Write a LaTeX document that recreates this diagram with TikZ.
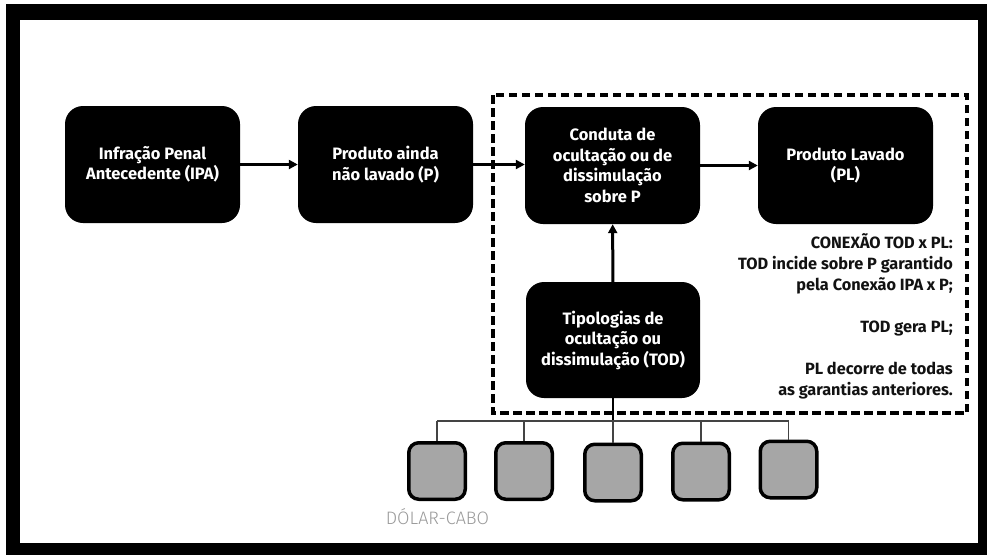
\documentclass[tikz,border=0pt]{standalone}
\usepackage{fontspec}
\setmainfont{Fira Sans}
\usetikzlibrary{arrows.meta}
\definecolor{smallgrey}{HTML}{A6A6A6}
\definecolor{labelgrey}{HTML}{9A9A9A}
\definecolor{treegrey}{HTML}{444444}
\tikzset{
  blackbox/.style={fill=black, rounded corners=18pt, minimum width=175pt, minimum height=117pt,
    text=white, align=center, font=\fontsize{16.5}{20.5}\selectfont\bfseries, inner sep=0pt},
  smallbox/.style={fill=smallgrey, draw=black, line width=3.5pt, rounded corners=10pt,
    minimum width=56.5pt, minimum height=56.5pt, inner sep=0pt},
  flow/.style={line width=3pt, -{Triangle[length=9pt,width=9pt]}},
  treeline/.style={draw=treegrey, line width=1.4pt},
  sidetext/.style={align=right, font=\fontsize{16.3}{21}\selectfont\bfseries, text=black!93, inner sep=0pt},
}
\begin{document}
\begin{tikzpicture}[x=1pt, y=-1pt]
\useasboundingbox (0,0) rectangle (987,555);
\fill[black] (6,4) rectangle (987,555);
\fill[white] (20,20) rectangle (978,543);

% dashed region
\draw[line width=3.5pt, dash pattern=on 8.5pt off 4.5pt] (493,95) rectangle (967,413);

\node[blackbox] (ipa) at (152.5,164.5) {Infração Penal\\Antecedente (IPA)};
\node[blackbox] (p) at (385.5,164.5) {Produto ainda\\não lavado (P)};
\node[blackbox] (cond) at (612.5,165.5) {Conduta de\\ocultação ou de\\dissimulação\\sobre P};
\node[blackbox] (pl) at (845.5,165.5) {Produto Lavado\\(PL)};
\node[blackbox, minimum width=174pt, minimum height=116pt] (tod) at (613,340) {Tipologias de\\ocultação ou\\dissimulação (TOD)};

\draw[flow] (ipa) -- (p);
\draw[flow] (p.east) -- (cond.west |- p.east);
\draw[flow] (cond) -- (pl);
\draw[flow] (tod) -- (cond);

\node[sidetext, anchor=east] (side) at (953,316.5) {CONEXÃO TOD x PL:\\TOD incide sobre P garantido\\pela Conexão IPA x P;\\[21pt]TOD gera PL;\\[21pt]PL decorre de todas\\as garantias anteriores.};

\node[smallbox] (s1) at (437,471) {};
\node[smallbox] (s2) at (524,471) {};
\node[smallbox] (s3) at (613,472.5) {};
\node[smallbox] (s4) at (701,471.5) {};
\node[smallbox] (s5) at (788.5,469.5) {};

\coordinate (hub) at (613,421);
\draw[line width=2.5pt] (tod.south) -- (hub);
\draw[treeline] (s1.north |- hub) -- (s5.north |- hub);
\foreach \s in {s1,s2,s3,s4,s5} {
  \draw[treeline] (\s.north |- hub) -- (\s.north);
}

\node[text=labelgrey, font=\fontsize{18}{20}\selectfont\fontspec{Fira Sans Light}, inner sep=0pt] (dolar) at (437.5,517) {DÓLAR-CABO};
\end{tikzpicture}
\end{document}
